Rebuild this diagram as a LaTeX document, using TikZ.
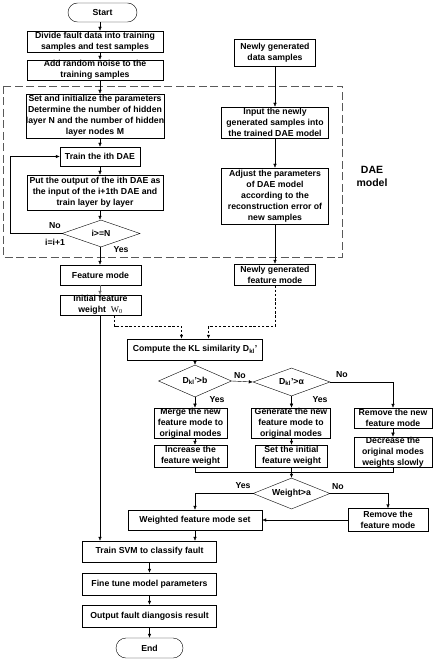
\documentclass[tikz,border=0pt]{standalone}
\usepackage{fontspec}
\setmainfont{Liberation Sans}
\newfontfamily\wfont{Liberation Serif}
\usetikzlibrary{shapes,arrows.meta,calc,positioning}
\tikzset{
    >={Latex[length=4pt,width=3.4pt]},line width=0.7pt,
    txt/.style = {font=\bfseries\fontsize{8.7}{11}\selectfont},
    block/.style ={rectangle, draw, align=center, inner sep=0pt, txt},
    term/.style ={rounded rectangle, draw, inner sep=0pt, txt},
    decision/.style ={diamond, draw, aspect=2.8, inner sep=0pt, txt},
    sz/.style 2 args = {minimum width=#1pt, minimum height=#2pt},
    el/.style = {inner sep=1pt, txt},
    daebox/.style = {draw=black!65, dash pattern=on 8pt off 3.5pt, line width=0.9pt},
    feed/.style = {->, dash pattern=on 2.5pt off 1.8pt, line width=0.9pt}
}
\begin{document}
\begin{tikzpicture}[x=1pt,y=-1pt]
    \useasboundingbox (0,0) rectangle (435,660);
    \coordinate (ax) at (100,0);

    % left column: training
    \node[term, sz={69}{19}] (start) at (102.5,12.5) {Start};
    \node[block, sz={136}{21}] (divide) at (95,41.5) {Divide fault data into training\\samples and test samples};
    \node[block, sz={136}{20}] (noise) at (95,70) {Add random noise  to the\\training samples};
    \node[block, sz={138}{44}] (init) at (95,116) {Set and initialize the parameters\\Determine the number of hidden\\layer N and the number of hidden\\layer nodes M};
    \node[block, sz={80}{19}] (train) at (100,156.5) {Train the ith DAE};
    \node[block, sz={136}{35}] (put) at (95,192.5) {Put the output of the ith DAE as\\the input of the i+1th DAE and\\train layer by layer};
    \node[decision, sz={78}{27}] (cond) at (101,233.5) {i>=N};
    \node[block, sz={81}{20}] (feat) at (100.5,275) {Feature mode};
    \node[block, sz={81}{20}] (w0) at (100.5,305) {Initial feature\\weight \ {\wfont\mdseries W\textsubscript{0}}};

    % right column: new samples
    \node[block, sz={81}{27}] (newdata) at (275,52.5) {Newly generated\\data samples};
    \node[block, sz={107}{31}] (input) at (275,122.5) {Input the newly\\generated samples into\\the trained DAE model};
    \node[block, sz={107}{56}] (adjust) at (275,196) {Adjust the parameters\\of DAE model\\according to the\\reconstruction error of\\new samples};
    \node[block, sz={81}{21}] (newfeat) at (275,274.5) {Newly generated\\feature mode};

    \draw[daebox] (3,86) rectangle (342,257);
    \node[txt, align=center, font=\bfseries\fontsize{10.5}{13}\selectfont] (daelabel) at (372,176) {DAE\\model};

    % similarity check
    \node[block, sz={135}{21}] (kl) at (195,349.5) {Compute the KL similarity D\textsubscript{kl}'};
    \node[decision, sz={73}{32}] (d1) at (195,381) {D\textsubscript{kl}'>b};
    \node[decision, sz={77}{28}] (d2) at (291.5,382) {D\textsubscript{kl}'>α};
    \node[block, sz={73}{30}] (merge) at (190.5,423) {Merge the new\\feature mode to\\original modes};
    \node[block, sz={73}{22}] (incr) at (190.5,456) {Increase the\\feature weight};
    \node[block, sz={79}{30}] (gen) at (291,423) {Generate the new\\feature mode to\\original modes};
    \node[block, sz={72}{22}] (setw) at (291.5,456) {Set the initial\\feature weight};
    \node[block, sz={78}{20}] (rmnew) at (393,418) {Remove the new\\feature mode};
    \node[block, sz={78}{30}] (decr) at (393,452) {Decrease the\\original modes\\weights slowly};
    \node[decision, sz={77}{31}] (wd) at (291.5,493.5) {Weight>a};
    \node[block, sz={134}{20}] (wset) at (195,520) {Weighted feature mode set};
    \node[block, sz={80}{23}] (rmf) at (388,520) {Remove the\\feature mode};

    % classification
    \node[block, sz={134}{21}] (svm) at (149.5,551.5) {Train SVM to classify fault};
    \node[block, sz={134}{22}] (fine) at (149.5,584) {Fine tune model parameters};
    \node[block, sz={134}{22}] (out) at (149.5,616) {Output fault diangosis result};
    \node[term, sz={67}{20}] (end) at (149.5,648) {End};

    % labels
    \node[el] (no1) at (55,226) {No};
    \node[el] (inc) at (55,242) {i=i+1};
    \node[el] (yes1) at (121,250) {Yes};
    \node[el] (no2) at (240,376) {No};
    \node[el] (yes2) at (217,400) {Yes};
    \node[el] (no3) at (342,375) {No};
    \node[el] (yes3) at (320,400) {Yes};
    \node[el] (yes4) at (243,486) {Yes};
    \node[el] (no4) at (338,487) {No};

    \draw[->] (ax |- start.south) -- (ax |- divide.north);
    \draw[->] (ax |- divide.south) -- (ax |- noise.north);
    \draw[->] (ax |- noise.south) -- (ax |- init.north);
    \draw[->] (ax |- init.south) -- (ax |- train.north);
    \draw[->] (ax |- train.south) -- (ax |- put.north);
    \draw[->] (ax |- put.south) -- (ax |- cond.north);
    \draw[->] (cond.west) -- ++(-52,0) |- (train.west);
    \draw[->] (ax |- cond.south) -- (ax |- feat.north);
    \draw[->, black!60] (ax |- feat.south) -- (ax |- w0.north);
    \draw[->] (ax |- w0.south) -- (ax |- svm.north);

    \draw[->] (newdata) -- (input);
    \draw[->] (input) -- (adjust);
    \draw[->] (adjust) -- (newfeat);

    \draw[feed] ([xshift=14pt]w0.south) -- ++(0,11) -| ([xshift=-13.5pt]kl.north);
    \draw[feed] (newfeat.south) -- ++(0,41) -| ([xshift=13.5pt]kl.north);

    \draw[->] (kl) -- (d1);
    \draw[->] (d1.east) -- (d2.west);
    \draw[->] (d1.south) -- (d1.south |- merge.north);
    \draw[->] (d1.south |- merge.south) -- (d1.south |- incr.north);
    \draw[->] (d2.south) -- (d2.south |- gen.north);
    \draw[->] (gen.south -| setw) -- (setw.north);
    \draw[->] (d2.east) -| (rmnew.north);
    \draw[->] (rmnew) -- (decr);
    \draw (d1.south |- incr.south) -- ++(0,5) -| (decr.south);
    \draw[->] (setw.south) -- (wd.north);
    \draw[->] (wd.west) -| (wset.north);
    \draw[->] (wd.east) -| (rmf.north);
    \draw[->] (rmf.west) -- (wset.east);
    \draw[->] (wset.south) -- (wset.south |- svm.north);

    \draw[->] (svm) -- (fine);
    \draw[->] (fine) -- (out);
    \draw[->] (out) -- (end);
\end{tikzpicture}
\end{document}
